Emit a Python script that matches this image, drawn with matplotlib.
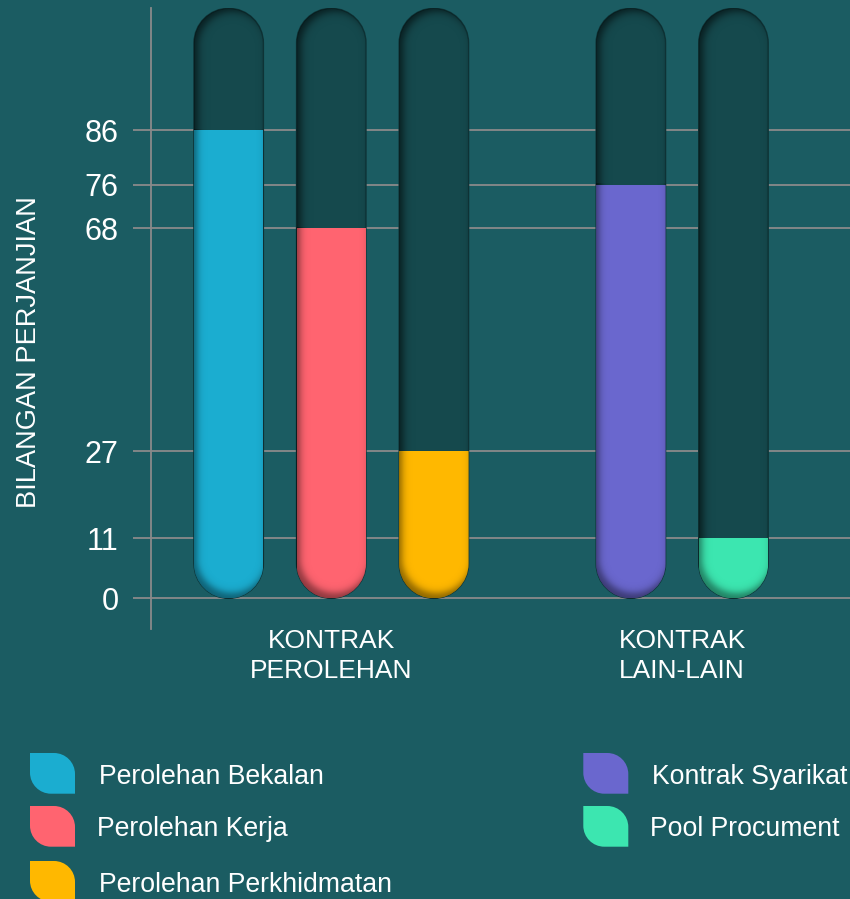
import numpy as np
import matplotlib
matplotlib.use("Agg")
import matplotlib.pyplot as plt
from matplotlib.path import Path
from matplotlib.patches import PathPatch

# ---------------- data ----------------
categories = ["KONTRAK\nPEROLEHAN", "KONTRAK\nLAIN-LAIN"]
series = ["Perolehan Bekalan", "Perolehan Kerja", "Perolehan Perkhidmatan",
          "Kontrak Syarikat", "Pool Procument"]
series_group = [0, 0, 0, 1, 1]
values = [86, 68, 27, 76, 11]
colors = ["#1BADD0", "#FF6470", "#FFB800", "#6A67CE", "#3CE6B0"]
yticks = [0, 11, 27, 68, 76, 86]
ylabel = "BILANGAN PERJANJIAN"
track_max = 108.4

# ---------------- style ----------------
BG = "#1B5C62"
TRACK = "#15494D"
GRID = "#8A8A8A"
FONT = ["Liberation Sans", "DejaVu Sans"]
plt.rcParams["font.family"] = FONT

W, H = 850, 899
fig = plt.figure(figsize=(W / 100, H / 100), dpi=100, facecolor=BG)
ax = fig.add_axes([150.7 / W, 1 - 629 / H, (W - 150.7) / W, 621 / H])
ax.set_facecolor(BG)

# bar positions from grouping
bar_w = 0.677
group_gap = 0.92
positions = []
x = 0.0
for i, g in enumerate(series_group):
    if i > 0 and g != series_group[i - 1]:
        x += group_gap
    positions.append(x)
    x += 1.0
group_centers = [np.mean([p for p, g in zip(positions, series_group) if g == k])
                 for k in range(len(categories))]

ax.set_xlim(-0.760, 6.056)
ax.set_ylim(-5.63, 108.45)
ax.set_autoscale_on(False)

sx = ax.bbox.width / (6.056 + 0.760)
sy = ax.bbox.height / (108.45 + 5.63)
hw = bar_w / 2
r_px = hw * sx
ry = r_px / sy
K = 0.5523


def capsule_path(cx, y0, y1):
    verts = [(cx - hw, y1 - ry)]
    codes = [Path.MOVETO]
    verts += [(cx - hw, y1 - ry + K * ry), (cx - K * hw, y1), (cx, y1),
              (cx + K * hw, y1), (cx + hw, y1 - ry + K * ry), (cx + hw, y1 - ry)]
    codes += [Path.CURVE4] * 6
    verts += [(cx + hw, y0 + ry)]
    codes += [Path.LINETO]
    verts += [(cx + hw, y0 + ry - K * ry), (cx + K * hw, y0), (cx, y0),
              (cx - K * hw, y0), (cx - hw, y0 + ry - K * ry), (cx - hw, y0 + ry)]
    codes += [Path.CURVE4] * 6
    verts += [(cx - hw, y1 - ry)]
    codes += [Path.CLOSEPOLY]
    return Path(verts, codes)


def capsule_sdf(X, Y, top_px):
    Yc = np.clip(Y, r_px, top_px - r_px)
    return np.hypot(X, Y - Yc) - r_px


def shadow_image(cx, ytop_data, top_px, off, amp, soft, clip_patch, z):
    step = 0.5
    xs = np.arange(-r_px - 3, r_px + 3, step)
    ytop_px = ytop_data * sy
    ys = np.arange(-3, ytop_px + step, step)
    Xp, Yp = np.meshgrid(xs, ys)
    d = capsule_sdf(Xp - off[0], Yp - off[1], top_px)
    a = amp / (1 + np.exp(-d / soft))
    img = np.zeros(Xp.shape + (4,))
    img[..., 3] = a
    im = ax.imshow(img, extent=[cx + xs[0] / sx, cx + xs[-1] / sx,
                                ys[0] / sy, ys[-1] / sy],
                   origin="lower", aspect="auto", interpolation="bilinear",
                   zorder=z)
    im.set_clip_path(clip_patch)
    return im


ax.set_yticks(yticks)
ax.set_yticklabels([str(v) for v in yticks])
ax.grid(axis="y", color=GRID, linewidth=1.3, zorder=0)
ax.set_axisbelow(True)
for s in ["top", "right", "bottom"]:
    ax.spines[s].set_visible(False)
ax.spines["left"].set_color(GRID)
ax.spines["left"].set_linewidth(1.3)
ax.tick_params(axis="y", colors=GRID, length=13, width=1.3, pad=10,
               labelcolor="white", labelsize=22)
ax.set_xticks(group_centers)
ax.set_xticklabels(categories, color="white", fontsize=19, linespacing=1.32)
ax.tick_params(axis="x", length=0, pad=0)

top_px = track_max * sy
tracks = []
for cx in positions:
    tp = PathPatch(capsule_path(cx, 0, track_max), facecolor=TRACK,
                   edgecolor="#0F3639", linewidth=1.0, zorder=1)
    ax.add_patch(tp)
    tracks.append(tp)
    shadow_image(cx, track_max, top_px, (4, -4), 0.6, 2.5, tp, 2)

bars = ax.bar(positions, values, width=bar_w, color=colors, zorder=3,
              linewidth=0)
for rect, tp, cx, v in zip(bars, tracks, positions, values):
    rect.set_clip_path(tp)
    shadow_image(cx, v, top_px, (3, 5), 0.45, 2.2, tp, 4)

fig.text(29 / W, 1 - 352 / H, ylabel, rotation=90, color="white",
         fontsize=19.6, ha="center", va="center")

# ---------------- legend ----------------
leg = fig.add_axes([0, 0, 1, 1], zorder=5)
leg.set_xlim(0, W)
leg.set_ylim(H, 0)
leg.axis("off")
leg.patch.set_alpha(0)

col_x = [30, 583.3]
row_y = [753, 806, 861]
icon_w, icon_h, R = 45, 40.7, 21
legend_slots = [(0, 0), (0, 1), (0, 2), (1, 0), (1, 1)]
text_dx = [69.5, 67.5, 69.5, 69.0, 66.5]


def leaf(x0, y0):
    x1, y1 = x0 + icon_w, y0 + icon_h
    verts = [(x0, y0), (x1 - R, y0), (x1 - R + K * R, y0), (x1, y0 + R - K * R),
             (x1, y0 + R), (x1, y1), (x0 + R, y1), (x0 + R - K * R, y1),
             (x0, y1 - R + K * R), (x0, y1 - R), (x0, y0)]
    codes = [Path.MOVETO, Path.LINETO, Path.CURVE4, Path.CURVE4, Path.CURVE4,
             Path.LINETO, Path.LINETO, Path.CURVE4, Path.CURVE4, Path.CURVE4,
             Path.CLOSEPOLY]
    return Path(verts, codes)


for name, c, (ci, ri), dx in zip(series, colors, legend_slots, text_dx):
    x0, y0 = col_x[ci], row_y[ri]
    leg.add_patch(PathPatch(leaf(x0, y0), facecolor=c, edgecolor="none"))
    leg.text(x0 + dx, y0 + 30.5, name, color="white", fontsize=19.2,
             ha="left", va="baseline")

fig.savefig("out.png", dpi=100, facecolor=BG)
